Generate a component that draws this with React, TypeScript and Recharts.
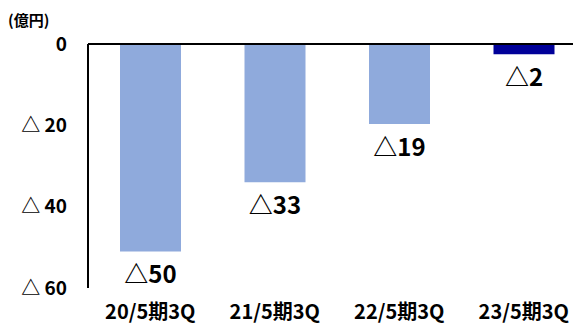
import React from 'react';
import { BarChart, Bar, XAxis, YAxis, Cell, LabelList, ReferenceLine } from 'recharts';

const categories = ['20/5期3Q', '21/5期3Q', '22/5期3Q', '23/5期3Q'];
const values = [-51, -34, -19.7, -2.5];
const valueLabels = ['△50', '△33', '△19', '△2'];
const barColors = ['#8faadc', '#8faadc', '#8faadc', '#000099'];
const yTicks = [0, -20, -40, -60];
const yTickLabels = ['0', '△ 20', '△ 40', '△ 60'];

const data = categories.map((c, i) => ({ name: c, value: values[i], label: valueLabels[i] }));
const FONT = '"Noto Sans CJK JP", "Noto Sans", sans-serif';

const BarLabel = (props: any) => {
  const { x, y, width, height, index } = props;
  const bottom = Math.max(y, y + height);
  return (
    <text x={x + width / 2} y={bottom + 21} textAnchor="middle" dominantBaseline="central"
      fontSize={24} fontWeight={700} fill="#000" fontFamily={FONT}>
      {valueLabels[index]}
    </text>
  );
};

export default function App() {
  return (
    <div style={{ position: 'absolute', left: 0, top: 0, width: 573, height: 326, background: '#fff', overflow: 'hidden', fontFamily: FONT }}>
      <div style={{ position: 'absolute', left: 8, top: 9, fontSize: 15, fontWeight: 700, color: '#000' }}>(億円)</div>
      <BarChart width={573} height={326} data={data} margin={{ top: 44, right: -13, left: 8, bottom: 8 }}>
        <XAxis dataKey="name" axisLine={false} tickLine={false} tickSize={0} tickMargin={17} height={30}
          interval={0} tick={{ fontSize: 20, fontWeight: 700, fill: '#000', fontFamily: FONT }} />
        <YAxis type="number" domain={[-60, 0]} ticks={yTicks} width={80} tickLine={false} tickSize={0} tickMargin={21}
          axisLine={{ stroke: '#000', strokeWidth: 2 }}
          tickFormatter={(v: number) => yTickLabels[yTicks.indexOf(v)]}
          tick={{ fontSize: 19, fontWeight: 700, fill: '#000', fontFamily: FONT }} />
        <Bar dataKey="value" barSize={61} isAnimationActive={false}>
          {data.map((d, i) => <Cell key={i} fill={barColors[i]} />)}
          <LabelList dataKey="label" content={<BarLabel />} />
        </Bar>
        <ReferenceLine y={0} stroke="#000" strokeWidth={2} ifOverflow="extendDomain" />
      </BarChart>
    </div>
  );
}
